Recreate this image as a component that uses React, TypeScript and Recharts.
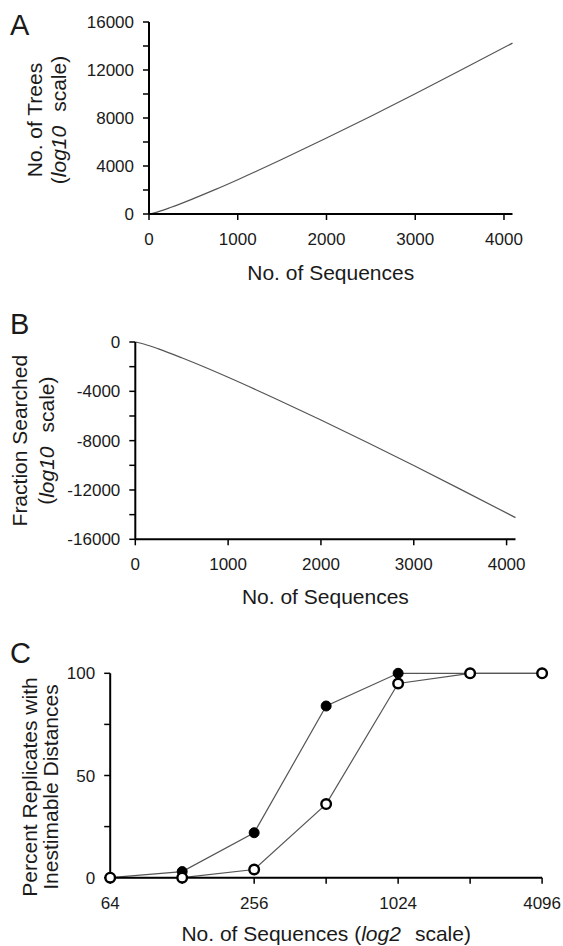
import React from 'react';
import { LineChart, Line, XAxis, YAxis, Label } from 'recharts';

// panel A / B: number of sequences vs log10 values
const seqCounts = [4, 100, 250, 500, 750, 1000, 1500, 2000, 2500, 3000, 3500, 4096];
const treesLog10 = [0, 180, 560, 1280, 2050, 2860, 4560, 6330, 8150, 10020, 11930, 14240];
const fractionLog10 = [0, -180, -560, -1280, -2050, -2860, -4560, -6330, -8150, -10020, -11930, -14240];

// panel C: log2 sequence counts
const sizes = [64, 128, 256, 512, 1024, 2048, 4096];
const filledPct = [0, 3, 22, 84, 100, 100, 100];
const openPct = [0, 0, 4, 36, 95, 100, 100];

const xTicksLinear = [0, 1000, 2000, 3000, 4000];
const yTicksA = [0, 2000, 4000, 6000, 8000, 10000, 12000, 14000, 16000];
const yTicksB = [-16000, -14000, -12000, -10000, -8000, -6000, -4000, -2000, 0];
const xTicksC = [64, 128, 256, 512, 1024, 2048, 4096];
const xLabelsC = [64, 256, 1024, 4096];
const yTicksC = [0, 25, 50, 75, 100];
const yLabelsC = [0, 50, 100];

const dataA = seqCounts.map((n, i) => ({ n, v: treesLog10[i] }));
const dataB = seqCounts.map((n, i) => ({ n, v: fractionLog10[i] }));
const dataC = sizes.map((n, i) => ({ n, filled: filledPct[i], open: openPct[i] }));

const FONT = '"Liberation Sans", Arial, Helvetica, sans-serif';
const INK = '#1a1a1a';
const tickStyle = { fontSize: 17, fill: INK, fontFamily: FONT };
const axisLine = { stroke: '#000', strokeWidth: 2 };
const tickLine = { stroke: '#000', strokeWidth: 1.5 };

const yTitle =
  (letter: string, letterY: number, line1: React.ReactNode, line2: React.ReactNode, x1: number, x2: number, dy: number) =>
  (props: any) => {
    const vb = props.viewBox || { y: 0, height: 0 };
    const cy = vb.y + vb.height / 2 + dy;
    return (
      <g fontFamily={FONT} fill={INK}>
        <text x={10} y={letterY} fontSize={29}>
          {letter}
        </text>
        <text x={x1} y={cy} fontSize={21} textAnchor="middle" dominantBaseline="central" transform={`rotate(-90 ${x1} ${cy})`}>
          {line1}
        </text>
        <text x={x2} y={cy} fontSize={21} textAnchor="middle" dominantBaseline="central" transform={`rotate(-90 ${x2} ${cy})`}>
          {line2}
        </text>
      </g>
    );
  };

const xTitle = (content: React.ReactNode, baseline: number) => (props: any) => {
  const vb = props.viewBox || { x: 0, width: 0, y: 0 };
  return (
    <text x={vb.x + vb.width / 2} y={baseline} fontSize={21} textAnchor="middle" fontFamily={FONT} fill={INK}>
      {content}
    </text>
  );
};

const log10Line = (
  <>
    (<tspan fontStyle="italic">log10</tspan>
    <tspan dx={14}>scale)</tspan>
  </>
);

const App = () => (
  <div style={{ position: 'absolute', left: 0, top: 0, width: 563, height: 946, background: '#fff' }}>
    <div style={{ position: 'absolute', left: 0, top: 0 }}>
      <LineChart width={563} height={300} data={dataA} margin={{ top: 22, right: 50.5, left: 0, bottom: 0 }}>
        <XAxis
          dataKey="n"
          type="number"
          domain={[0, 4096]}
          ticks={xTicksLinear}
          interval={0}
          height={86}
          tick={tickStyle}
          tickSize={6}
          tickMargin={13}
          axisLine={axisLine}
          tickLine={tickLine}
        >
          <Label content={xTitle('No. of Sequences', 280)} />
        </XAxis>
        <YAxis
          type="number"
          domain={[0, 16000]}
          ticks={yTicksA}
          interval={0}
          width={149}
          tick={tickStyle}
          tickSize={6}
          tickMargin={9}
          tickFormatter={(v: number) => (v % 4000 === 0 ? String(v) : '')}
          axisLine={axisLine}
          tickLine={tickLine}
        >
          <Label content={yTitle('A', 35, 'No. of Trees', log10Line, 34, 58, 2)} />
        </YAxis>
        <Line type="monotone" dataKey="v" stroke="#555" strokeWidth={1.2} dot={false} isAnimationActive={false} />
      </LineChart>
    </div>

    <div style={{ position: 'absolute', left: 0, top: 300 }}>
      <LineChart width={563} height={310} data={dataB} margin={{ top: 42, right: 47.5, left: 0, bottom: 0 }}>
        <XAxis
          dataKey="n"
          type="number"
          domain={[0, 4096]}
          ticks={xTicksLinear}
          interval={0}
          height={70.7}
          tick={tickStyle}
          tickSize={6}
          tickMargin={13}
          axisLine={axisLine}
          tickLine={tickLine}
        >
          <Label content={xTitle('No. of Sequences', 304)} />
        </XAxis>
        <YAxis
          type="number"
          domain={[-16000, 0]}
          ticks={yTicksB}
          interval={0}
          width={135.3}
          tick={tickStyle}
          tickSize={6}
          tickMargin={9}
          tickFormatter={(v: number) => (v % 4000 === 0 ? String(v) : '')}
          axisLine={axisLine}
          tickLine={tickLine}
        >
          <Label content={yTitle('B', 34, 'Fraction Searched', log10Line, 20, 46, 0)} />
        </YAxis>
        <Line type="monotone" dataKey="v" stroke="#555" strokeWidth={1.2} dot={false} isAnimationActive={false} />
      </LineChart>
    </div>

    <div style={{ position: 'absolute', left: 0, top: 600 }}>
      <LineChart width={563} height={346} data={dataC} margin={{ top: 73.3, right: 20.9, left: 0, bottom: 0 }}>
        <XAxis
          dataKey="n"
          type="number"
          scale="log"
          domain={[64, 4096]}
          ticks={xTicksC}
          interval={0}
          height={68.3}
          tick={tickStyle}
          tickSize={6}
          tickMargin={13}
          tickFormatter={(v: number) => (xLabelsC.includes(v) ? String(v) : '')}
          axisLine={axisLine}
          tickLine={tickLine}
        >
          <Label
            content={xTitle(
              <>
                No. of Sequences (<tspan fontStyle="italic">log2</tspan>
                <tspan dx={14}>scale)</tspan>
              </>,
              341
            )}
          />
        </XAxis>
        <YAxis
          type="number"
          domain={[0, 100]}
          ticks={yTicksC}
          interval={0}
          width={110.2}
          tick={tickStyle}
          tickSize={6}
          tickMargin={9}
          tickFormatter={(v: number) => (yLabelsC.includes(v) ? String(v) : '')}
          axisLine={axisLine}
          tickLine={tickLine}
        >
          <Label content={yTitle('C', 63, 'Percent Replicates with', 'Inestimable Distances', 29, 50, 11.5)} />
        </YAxis>
        <Line
          type="linear"
          dataKey="filled"
          stroke="#555"
          strokeWidth={1.2}
          dot={{ r: 5, fill: '#000', stroke: '#000', strokeWidth: 1 }}
          isAnimationActive={false}
        />
        <Line
          type="linear"
          dataKey="open"
          stroke="#555"
          strokeWidth={1.2}
          dot={{ r: 4.8, fill: '#fff', stroke: '#000', strokeWidth: 2.4 }}
          isAnimationActive={false}
        />
      </LineChart>
    </div>
  </div>
);

export default App;
